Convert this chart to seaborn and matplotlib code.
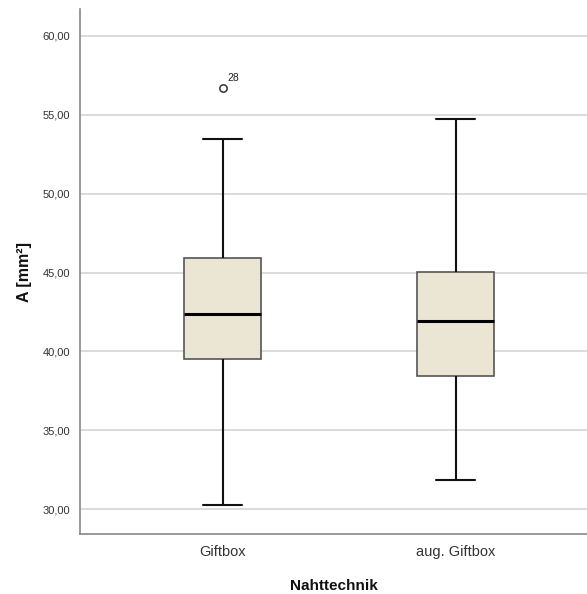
import matplotlib
matplotlib.use("Agg")
import matplotlib.pyplot as plt
import matplotlib.ticker as mticker
import seaborn as sns
import pandas as pd
import numpy as np

# Data (five-number summaries per group)
categories = ["Giftbox", "aug. Giftbox"]
whisker_low = [30.26, 31.85]
q1 = [39.52, 38.46]
median = [42.35, 41.90]
q3 = [45.90, 45.03]
whisker_high = [53.47, 54.76]
outlier_cat = ["Giftbox"]
outlier_val = [56.72]
outlier_label = ["28"]
yticks = [30, 35, 40, 45, 50, 55, 60]

rows = []
for i, c in enumerate(categories):
    for v in (whisker_low[i], q1[i], median[i], q3[i], whisker_high[i]):
        rows.append({"Nahttechnik": c, "A": v})
df = pd.DataFrame(rows)
df_out = pd.DataFrame({"Nahttechnik": outlier_cat, "A": outlier_val, "lab": outlier_label})

sns.set_theme(style="white")
plt.rcParams["font.family"] = ["Liberation Sans", "DejaVu Sans"]

fig = plt.figure(figsize=(5.87, 5.94), dpi=100)
ax = fig.add_axes([80/587, 60/594, 507/587, 525/594])

ax.yaxis.grid(True, color="#d4d4d4", linewidth=1.2, zorder=0)
ax.set_axisbelow(True)

sns.boxplot(data=df, x="Nahttechnik", y="A", order=categories, ax=ax,
            whis=np.inf, width=0.33, color="#ebe5d3", linecolor="#222222",
            linewidth=1.4, showfliers=False,
            boxprops=dict(facecolor="#ebe5d3", edgecolor="#555555", linewidth=1.2),
            medianprops=dict(color="black", linewidth=2.2),
            whiskerprops=dict(color="#111111", linewidth=1.5),
            capprops=dict(color="#111111", linewidth=1.5))

sns.scatterplot(data=df_out, x="Nahttechnik", y="A", ax=ax, marker="o",
                s=28, facecolor="white", edgecolor="#333333", linewidth=1.1, zorder=5)
for _, r in df_out.iterrows():
    xi = categories.index(r["Nahttechnik"])
    ax.annotate(r["lab"], (xi, r["A"]), xytext=(3.5, 5), textcoords="offset points",
                fontsize=7.5, color="#222222")

ax.set_xlim(-0.612, 1.564)
ax.set_ylim(28.42, 61.71)
ax.set_yticks(yticks)
ax.yaxis.set_major_formatter(mticker.FuncFormatter(lambda v, p: f"{v:.2f}".replace(".", ",")))
ax.tick_params(axis="y", length=0, pad=7, labelsize=8, labelcolor="#333333")
ax.tick_params(axis="x", length=0, pad=8, labelsize=10.5, labelcolor="#333333")

ax.set_ylabel("A [mm²]", fontsize=11.5, fontweight="bold", labelpad=8, color="#111111")
ax.set_xlabel("Nahttechnik", fontsize=11, fontweight="bold", labelpad=14, color="#111111")

for s in ("top", "right"):
    ax.spines[s].set_visible(False)
for s in ("left", "bottom"):
    ax.spines[s].set_color("#888888")
    ax.spines[s].set_linewidth(1.2)

fig.savefig("out.png", dpi=100)
